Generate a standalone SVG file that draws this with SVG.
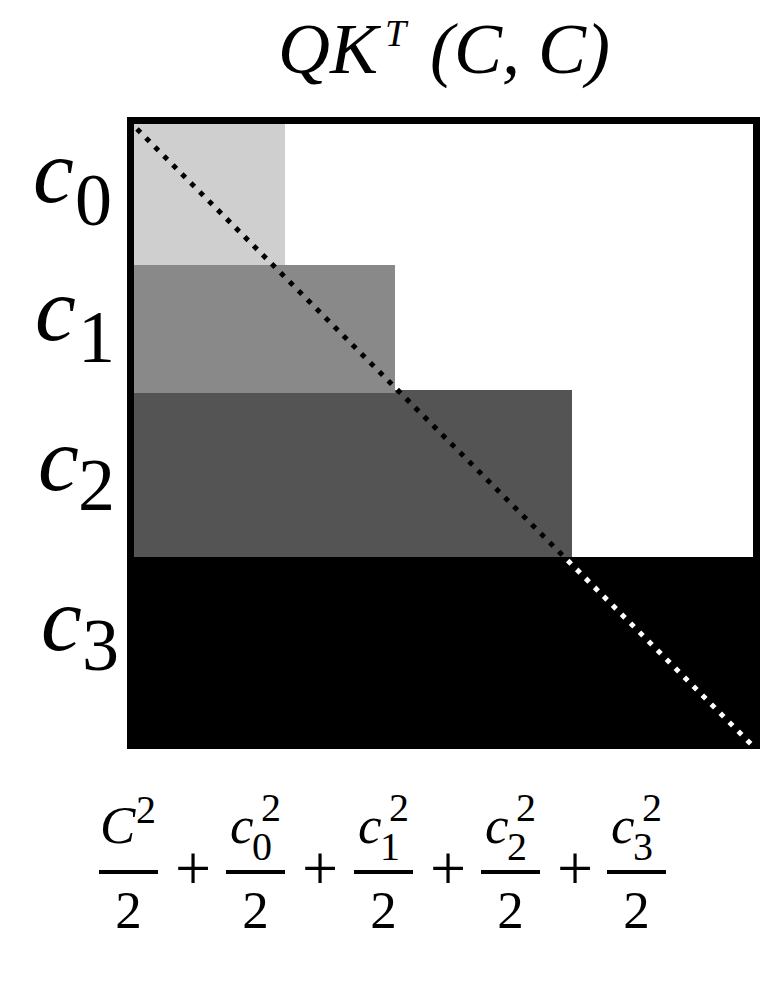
<svg xmlns="http://www.w3.org/2000/svg" width="774" height="1000" viewBox="0 0 774 1000">
<style>
.it{font-family:"Liberation Serif","Times New Roman",serif;font-style:italic;fill:#000}
.rm{font-family:"Liberation Serif","Times New Roman",serif;font-style:normal;fill:#000}
.lab{font-size:92px}
.sub{font-size:74px}
.num{font-size:53px}
.ss{font-size:40px}
.bar{stroke:#000;stroke-width:4}
.diag{stroke-width:5;stroke-dasharray:5 7.7;fill:none}
</style>
<defs>
<clipPath id="topClip"><rect x="0" y="0" width="774" height="557"/></clipPath>
<clipPath id="botClip"><rect x="0" y="557" width="774" height="443"/></clipPath>
</defs>
<rect width="774" height="1000" fill="#fff"/>

<g id="title">
<text class="it" x="278" y="73" font-size="72">QK</text>
<text class="it" x="385" y="46" font-size="38">T</text>
<text class="it" x="430" y="73" font-size="72">(C, C)</text>
</g>

<g id="matrix">
<rect id="block-c2" x="133" y="390" width="439" height="167" fill="#545454"/>
<rect id="block-c1" x="133" y="265" width="262" height="128" fill="#898989"/>
<rect id="block-c0" x="133" y="124" width="152" height="141" fill="#cfcfcf"/>
<rect id="block-c3" x="127" y="557" width="633" height="192" fill="#000"/>
<rect id="frame" x="130.5" y="120.5" width="626" height="625" fill="none" stroke="#000" stroke-width="7"/>
</g>

<g id="connectors">
<line class="diag" x1="137" y1="129" x2="754" y2="747" stroke="#000" clip-path="url(#topClip)"/>
<line class="diag" x1="137" y1="129" x2="754" y2="747" stroke="#fff" clip-path="url(#botClip)"/>
</g>

<g id="label-c0"><text class="it lab" x="33" y="202">c</text><text class="rm sub" x="75" y="225">0</text></g>
<g id="label-c1"><text class="it lab" x="35" y="340">c</text><text class="rm sub" x="78" y="362">1</text></g>
<g id="label-c2"><text class="it lab" x="38" y="490">c</text><text class="rm sub" x="78" y="510">2</text></g>
<g id="label-c3"><text class="it lab" x="41" y="650">c</text><text class="rm sub" x="82" y="670">3</text></g>

<g id="formula">
<g id="frac-C">
<text class="it num" x="100" y="843">C</text><text class="rm ss" x="136" y="823">2</text>
<line class="bar" x1="99" y1="872" x2="158" y2="872"/>
<text class="rm num" x="128.5" y="928" text-anchor="middle">2</text>
</g>
<text class="rm" x="193" y="890" font-size="64" text-anchor="middle">+</text>
<g id="frac-c0">
<text class="it num" x="230" y="843">c</text><text class="rm ss" x="252" y="860">0</text><text class="rm ss" x="261" y="821">2</text>
<line class="bar" x1="226" y1="872" x2="285" y2="872"/>
<text class="rm num" x="255.5" y="928" text-anchor="middle">2</text>
</g>
<text class="rm" x="320" y="890" font-size="64" text-anchor="middle">+</text>
<g id="frac-c1">
<text class="it num" x="358" y="843">c</text><text class="rm ss" x="380" y="860">1</text><text class="rm ss" x="389" y="821">2</text>
<line class="bar" x1="354" y1="872" x2="413" y2="872"/>
<text class="rm num" x="383.5" y="928" text-anchor="middle">2</text>
</g>
<text class="rm" x="448" y="890" font-size="64" text-anchor="middle">+</text>
<g id="frac-c2">
<text class="it num" x="485" y="843">c</text><text class="rm ss" x="507" y="860">2</text><text class="rm ss" x="516" y="821">2</text>
<line class="bar" x1="481" y1="872" x2="540" y2="872"/>
<text class="rm num" x="510.5" y="928" text-anchor="middle">2</text>
</g>
<text class="rm" x="575" y="890" font-size="64" text-anchor="middle">+</text>
<g id="frac-c3">
<text class="it num" x="611" y="843">c</text><text class="rm ss" x="633" y="860">3</text><text class="rm ss" x="642" y="821">2</text>
<line class="bar" x1="607" y1="872" x2="666" y2="872"/>
<text class="rm num" x="636.5" y="928" text-anchor="middle">2</text>
</g>
</g>
</svg>
